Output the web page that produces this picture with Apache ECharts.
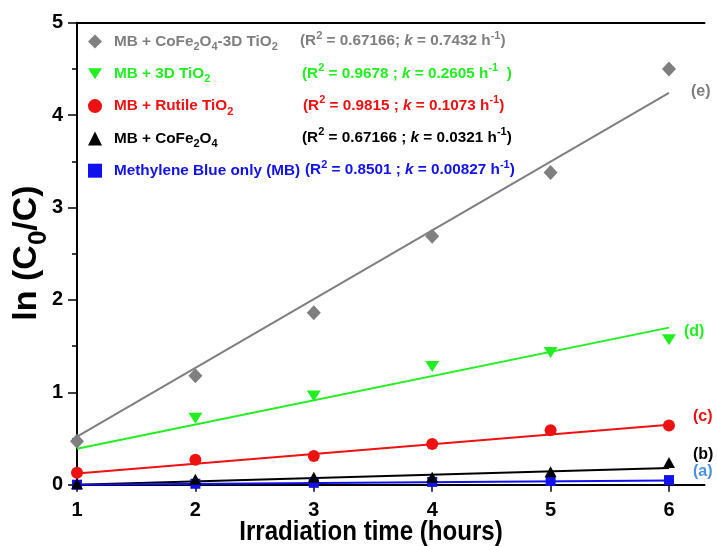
<!DOCTYPE html>
<html>
<head>
<meta charset="utf-8">
<script src="https://cdn.jsdelivr.net/npm/echarts@6/dist/echarts.min.js"></script>
<style>
  html, body { margin: 0; padding: 0; background: #fff; }
  #chart { width: 717px; height: 546px; }
</style>
</head>
<body>
<div id="chart"></div>
<script>
// Irradiation time (hours)
const hours = [1, 2, 3, 4, 5, 6];

// ln(C0/C) measured for each sample (null = no marker at that time)
const valsCoFeTiO2 = [0.47, 1.18, 1.86, 2.69, 3.38, 4.50];
const vals3DTiO2   = [null, 0.72, 0.96, 1.28, 1.43, 1.57];
const valsRutile   = [0.13, 0.27, 0.31, 0.44, 0.59, 0.64];
const valsCoFe     = [0.01, 0.06, 0.08, 0.08, 0.14, 0.24];
const valsMB       = [0.00, 0.01, 0.02, 0.03, 0.04, 0.05];

// Linear fits: ln(C0/C) at 1 h and at 6 h
const fitHours     = [1, 6];
const fitCoFeTiO2  = [0.52, 4.24];
const fit3DTiO2    = [0.39, 1.70];
const fitRutile    = [0.12, 0.65];
const fitCoFe      = [0.00, 0.18];
const fitMB        = [0.00, 0.045];

// Series names, legend text ([..] subscript, <..> superscript, *..* italic)
const seriesNames = ['MB + CoFe2O4-3D TiO2', 'MB + 3D TiO2', 'MB + Rutile TiO2', 'MB + CoFe2O4', 'Methylene Blue only (MB)'];
const legendText  = ['MB + CoFe[2]O[4]-3D TiO[2]', 'MB + 3D TiO[2]', 'MB + Rutile TiO[2]', 'MB + CoFe[2]O[4]', 'Methylene Blue only (MB)'];
const statText = [
  '(R<2> = 0.67166; *k* = 0.7432 h<-1>)',
  '(R<2> = 0.9678 ; *k* = 0.2605 h<-1>  )',
  '(R<2> = 0.9815 ; *k* = 0.1073 h<-1>)',
  '(R<2> = 0.67166 ; *k* = 0.0321 h<-1>)',
  '(R<2> = 0.8501 ; *k* = 0.00827 h<-1>)'
];
const curveTags = ['(e)', '(d)', '(c)', '(b)', '(a)'];
const yTicks = [0, 1, 2, 3, 4, 5];
const xTitle = 'Irradiation time (hours)';
const yTitle = 'ln (C[0]/C)';

const allVals = [valsCoFeTiO2, vals3DTiO2, valsRutile, valsCoFe, valsMB];
const allFits = [fitCoFeTiO2, fit3DTiO2, fitRutile, fitCoFe, fitMB];

// styling
const FONT = '"Liberation Sans", Arial, sans-serif';
const colors = ['#7f7f7f', '#22ee22', '#ee1111', '#000000', '#1111ee'];
const tagColors = ['#7f7f7f', '#22ee22', '#ee1111', '#000000', '#4a8fe0'];
const symbols = ['diamond', 'path://M0,0L14,0L7,11Z', 'circle', 'triangle', 'rect'];
const symbolSizes = [[14, 15], [14, 11], 12, [12, 11], 10];
const tagOffsets = [[22, -1], [15, 4], [24, -8], [24, -13], [24, -9]];
const statX = [300, 302, 303, 302, 305];
const rowTop = 41, rowStep = 32.3;
const LEG_FS = 15.3;

function toRich(src, key) {
  const re = /\[([^\]]*)\]|<([^>]*)>|\*([^*]*)\*|([^\[<*]+)/g;
  let out = '', m;
  while ((m = re.exec(src))) {
    if (m[1] != null) out += '{s' + key + '|' + m[1] + '}';
    else if (m[2] != null) out += '{p' + key + '|' + m[2] + '}';
    else if (m[3] != null) out += '{i' + key + '|' + m[3] + '}';
    else out += '{t' + key + '|' + m[4] + '}';
  }
  return out;
}

function richStyles(color, key, colorProp, fs) {
  const base = { fontFamily: FONT, fontWeight: 'bold' };
  const c = {}; c[colorProp] = color;
  const sfs = Math.round(fs * 0.75);
  const lh = Math.round(fs * 1.45);
  const r = {};
  r['t' + key] = Object.assign({}, base, c, { fontSize: fs, lineHeight: lh, verticalAlign: 'middle' });
  r['i' + key] = Object.assign({}, base, c, { fontSize: fs, lineHeight: lh, verticalAlign: 'middle', fontStyle: 'italic' });
  r['s' + key] = Object.assign({}, base, c, { fontSize: sfs, lineHeight: Math.round(fs * 0.6), verticalAlign: 'bottom' });
  r['p' + key] = Object.assign({}, base, c, { fontSize: sfs, lineHeight: Math.round(fs * 0.65), verticalAlign: 'top' });
  return r;
}

const legendRich = {};
colors.forEach((c, i) => Object.assign(legendRich, richStyles(c, i, 'color', LEG_FS)));
const legendMarkup = {};
seriesNames.forEach((n, i) => { legendMarkup[n] = toRich(legendText[i], i); });

const series = [];
seriesNames.forEach((name, i) => {
  series.push({
    name: name,
    type: 'line',
    data: fitHours.map((h, j) => [h, allFits[i][j]]),
    symbol: 'none',
    lineStyle: { color: colors[i], width: 2 },
    z: 2,
    silent: true,
    endLabel: {
      show: true,
      formatter: curveTags[i],
      color: tagColors[i],
      fontFamily: FONT,
      fontWeight: 'bold',
      fontSize: 16,
      distance: 0,
      offset: tagOffsets[i]
    }
  });
});
seriesNames.forEach((name, i) => {
  series.push({
    name: name,
    type: 'scatter',
    data: hours.map((h, j) => [h, allVals[i][j]]),
    symbol: symbols[i],
    symbolSize: symbolSizes[i],
    itemStyle: { color: colors[i], opacity: 1 },
    z: 3 + (4 - i)
  });
});

const graphics = statText.map((s, i) => ({
  type: 'text',
  x: statX[i],
  y: rowTop + i * rowStep,
  style: {
    text: toRich(s, i),
    rich: richStyles(colors[i], i, 'fill', LEG_FS),
    fill: colors[i],
    font: 'bold ' + LEG_FS + 'px ' + FONT,
    verticalAlign: 'middle',
    align: 'left'
  }
}));

// axis titles (slightly condensed bold lettering)
graphics.push({
  type: 'text',
  x: 371,
  y: 532,
  scaleX: 0.86,
  style: {
    text: xTitle,
    fill: '#000',
    font: 'bold 28px ' + FONT,
    align: 'center',
    verticalAlign: 'middle'
  }
});
graphics.push({
  type: 'text',
  x: 27,
  y: 253,
  rotation: Math.PI / 2,
  style: {
    text: toRich(yTitle, 'y'),
    rich: richStyles('#000', 'y', 'fill', 34),
    fill: '#000',
    font: 'bold 34px ' + FONT,
    align: 'center',
    verticalAlign: 'middle'
  }
});

const chart = echarts.init(document.getElementById('chart'), null, { renderer: 'canvas' });
chart.setOption({
  animation: false,
  backgroundColor: '#ffffff',
  grid: { left: 77, right: 12.5, top: 22.7, bottom: 61.3, containLabel: false },
  legend: {
    orient: 'vertical',
    left: 88,
    top: 34,
    padding: 0,
    itemWidth: 14,
    itemHeight: 14,
    itemGap: 13.8,
    selectedMode: false,
    data: seriesNames.map((n, i) => ({ name: n, icon: symbols[i], itemStyle: { color: colors[i] } })),
    formatter: (n) => legendMarkup[n],
    textStyle: { padding: [0, 0, 0, 7], rich: legendRich }
  },
  xAxis: [{
    type: 'value',
    min: 1,
    max: 6.3,
    interval: 1,
    axisLine: { lineStyle: { color: '#000', width: 2 } },
    axisTick: { length: 7, lineStyle: { color: '#000', width: 1.5 }, customValues: hours },
    axisLabel: { customValues: hours, margin: 16, fontFamily: FONT, fontWeight: 'bold', fontSize: 20, color: '#000' },
    splitLine: { show: false }
  }, {
    type: 'value',
    position: 'top',
    min: 1,
    max: 6.3,
    axisLine: { show: true, onZero: false, lineStyle: { color: '#000', width: 2 } },
    axisTick: { show: false },
    axisLabel: { show: false },
    splitLine: { show: false }
  }],
  yAxis: {
    type: 'value',
    min: 0,
    max: 5,
    interval: 1,
    axisLine: { show: true, lineStyle: { color: '#000', width: 2 } },
    axisTick: { length: 9, lineStyle: { color: '#000', width: 1.5 }, customValues: yTicks },
    minorTick: { show: true, splitNumber: 2, length: 5, lineStyle: { color: '#000', width: 1.5 } },
    axisLabel: { customValues: yTicks, margin: 14, fontFamily: FONT, fontWeight: 'bold', fontSize: 20, color: '#000' },
    splitLine: { show: false }
  },
  graphic: graphics,
  series: series
});
</script>
</body>
</html>
